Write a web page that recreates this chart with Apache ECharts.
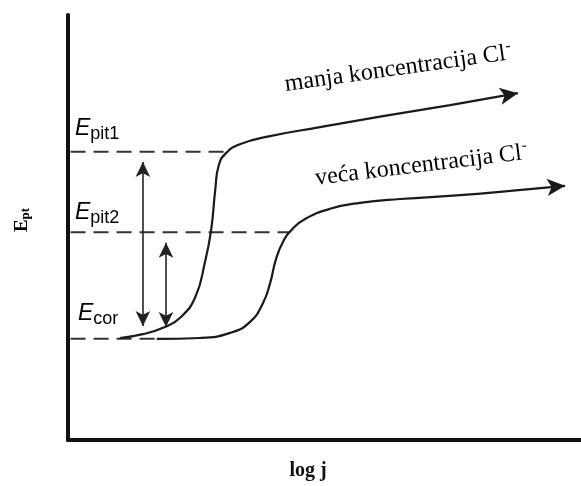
<!DOCTYPE html>
<html>
<head>
<meta charset="utf-8">
<script src="https://cdn.jsdelivr.net/npm/echarts@6/dist/echarts.min.js"></script>
<style>
html,body{margin:0;padding:0;background:#fff;}
#c{width:581px;height:486px;}
</style>
</head>
<body>
<div id="c"></div>
<script>
// Schematic polarisation curves (arbitrary units: log j 0..10, E 0..10)
const curve1X = [1.01,1.46,1.89,2.18,2.48,2.67,2.79,2.87,2.94,3.08,3.35,3.94,4.91,6.14,7.45,8.77];
const curve1Y = [2.40,2.49,2.66,2.87,3.36,4.19,4.94,5.88,6.47,6.75,6.96,7.15,7.36,7.62,7.88,8.16];
const curve2X = [1.73,2.57,3.16,3.55,3.80,3.94,4.05,4.19,4.37,4.62,5.11,5.69,6.47,7.64,8.62,9.69];
const curve2Y = [2.38,2.40,2.52,2.78,3.22,3.69,4.24,4.66,4.96,5.20,5.44,5.58,5.67,5.76,5.86,5.98];
// potential levels: Epit1, Epit2, Ecor
const levelNames = ['pit1','pit2','cor'];
const levelY = [6.78, 4.89, 2.38];
const levelEndX = [3.08, 4.33, 1.73];
// double arrows
const arrowX = [1.46, 1.91];
const arrowTop = [6.54, 4.64];
const arrowBottom = [2.68, 2.66];
const curveNames = ['manja koncentracija Cl', 'veća koncentracija Cl'];

function curveData(xs, ys, rot) {
  return xs.map((x, i) => {
    if (i === xs.length - 1) {
      return {value: [x, ys[i]], symbol: 'arrow', symbolSize: [13, 18], symbolRotate: rot,
              symbolOffset: [0, 0], itemStyle: {color: '#1a1a1a'}};
    }
    return {value: [x, ys[i]], symbol: 'none'};
  });
}

const series = [];
levelY.forEach((y, i) => {
  series.push({
    type: 'line', silent: true, symbol: 'none',
    data: [[0.05, y], [levelEndX[i], y]],
    lineStyle: {color: '#333', width: 2, type: [15, 8]},
    z: 2
  });
});
series.push({
  type: 'line', name: curveNames[0], smooth: 0.5, showSymbol: true,
  data: curveData(curve1X, curve1Y, -80),
  lineStyle: {color: '#1a1a1a', width: 2.2}, z: 3,
  markLine: {
    silent: true, symbol: ['arrow', 'arrow'], symbolSize: [11, 15],
    lineStyle: {color: '#222', width: 1.6, type: 'solid'},
    label: {show: false},
    data: arrowX.map((x, i) => [{coord: [x, arrowTop[i]]}, {coord: [x, arrowBottom[i]]}])
  }
});
series.push({
  type: 'line', name: curveNames[1], smooth: 0.5, showSymbol: true,
  data: curveData(curve2X, curve2Y, -85),
  lineStyle: {color: '#1a1a1a', width: 2.2}, z: 3
});

const sansE = {fontFamily: 'Liberation Sans, Arial, sans-serif', fontStyle: 'italic', fontSize: 23, color: '#222'};
const sansSub = {fontFamily: 'Liberation Sans, Arial, sans-serif', fontSize: 18, color: '#222', padding: [10, 0, 0, 0]};
const labelPos = [[75, 129], [75, 213], [78, 314]];

const graphic = [];
levelNames.forEach((n, i) => {
  graphic.push({
    type: 'text', x: labelPos[i][0], y: labelPos[i][1],
    style: {text: '{e|E}{s|' + n + '}', rich: {e: sansE, s: sansSub}, textVerticalAlign: 'middle', textAlign: 'left'}
  });
});
const serif = 'Liberation Serif, Times New Roman, serif';
const clRich = {
  a: {fontFamily: serif, fontSize: 24, color: '#111'},
  b: {fontFamily: serif, fontSize: 15, color: '#111', padding: [0, 0, 14, 1]}
};
graphic.push({
  type: 'text', x: 287, y: 99, rotation: 8 * Math.PI / 180,
  style: {text: '{a|' + curveNames[0] + '}{b|-}', rich: clRich, textAlign: 'left', textVerticalAlign: 'bottom'}
});
graphic.push({
  type: 'text', x: 317, y: 193, rotation: 7 * Math.PI / 180,
  style: {text: '{a|' + curveNames[1] + '}{b|-}', rich: clRich, textAlign: 'left', textVerticalAlign: 'bottom'}
});
graphic.push({
  type: 'text', x: 22, y: 220, rotation: Math.PI / 2,
  style: {text: '{e|E}{s|pt}', rich: {
    e: {fontFamily: serif, fontWeight: 'bold', fontSize: 19, color: '#111'},
    s: {fontFamily: serif, fontWeight: 'bold', fontSize: 13, color: '#111', padding: [8, 0, 0, 0]}
  }, textAlign: 'center', textVerticalAlign: 'middle'}
});
graphic.push({
  type: 'text', x: 308, y: 471,
  style: {text: 'log j', fontFamily: serif, fontWeight: 'bold', fontSize: 20, fill: '#111', textAlign: 'center', textVerticalAlign: 'middle'}
});

const chart = echarts.init(document.getElementById('c'), null, {renderer: 'canvas'});
chart.setOption({
  animation: false,
  backgroundColor: '#fff',
  grid: {left: 68, right: 0, top: 15, bottom: 46, containLabel: false},
  xAxis: {type: 'value', min: 0, max: 10,
    axisLine: {show: true, onZero: false, lineStyle: {color: '#111', width: 4, cap: 'round'}},
    axisTick: {show: false}, axisLabel: {show: false}, splitLine: {show: false}},
  yAxis: {type: 'value', min: 0, max: 10,
    axisLine: {show: true, onZero: false, lineStyle: {color: '#111', width: 4, cap: 'round'}},
    axisTick: {show: false}, axisLabel: {show: false}, splitLine: {show: false}},
  series: series,
  graphic: graphic
});
</script>
</body>
</html>
